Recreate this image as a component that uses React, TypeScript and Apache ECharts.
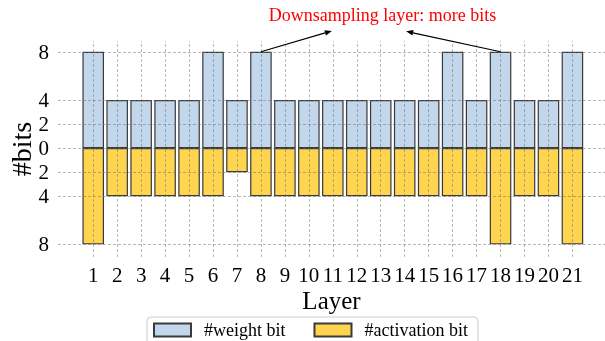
import React, { useEffect, useRef } from "react";
import * as echarts from "echarts";

// Per-layer bit widths
const layers = [1, 2, 3, 4, 5, 6, 7, 8, 9, 10, 11, 12, 13, 14, 15, 16, 17, 18, 19, 20, 21];
const weightBits = [8, 4, 4, 4, 4, 8, 4, 8, 4, 4, 4, 4, 4, 4, 4, 8, 4, 8, 4, 4, 8];
const activationBits = [8, 4, 4, 4, 4, 4, 2, 4, 4, 4, 4, 4, 4, 4, 4, 4, 4, 8, 4, 4, 8];

// Tick values on the bits axis (activations drawn below zero)
const bitTicks = [8, 4, 2, 0, -2, -4, -8];

// Annotation: text and the two downsampling layers it points at
const noteText = "Downsampling layer: more bits";
const noteLayers = [8, 18];
// Arrow tips in data coordinates (above the plotted range)
const noteTips: [number, number][] = [
  [10.96, 9.74],
  [14.06, 9.7],
];

const FONT = "'Liberation Serif', 'Times New Roman', serif";
const BLUE = "#c2d6ec";
const YELLOW = "#ffd54f";
const GRID_LINE = "rgba(105,105,105,0.6)";

export default function App() {
  const ref = useRef<HTMLDivElement>(null);

  useEffect(() => {
    if (!ref.current) return;
    const chart = echarts.init(ref.current, undefined, { renderer: "svg" });

    const gridLines = [
      ...layers.map((l) => ({ xAxis: l })),
      ...bitTicks.map((v) => ({ yAxis: v })),
    ];

    chart.setOption({
      animation: false,
      grid: {
        left: 58,
        right: 0,
        top: 41,
        bottom: 84,
        containLabel: false,
        outerBoundsMode: "none",
      },
      xAxis: {
        type: "value",
        min: -0.47,
        max: 22.36,
        name: "Layer",
        nameLocation: "middle",
        nameGap: 31,
        nameMoveOverlap: false,
        nameTextStyle: { fontFamily: FONT, fontSize: 25, color: "#000" },
        axisLine: { show: false },
        axisTick: { show: false, customValues: layers },
        splitLine: { show: false },
        axisLabel: {
          customValues: layers,
          fontFamily: FONT,
          fontSize: 21,
          color: "#000",
          margin: 7,
        },
      },
      yAxis: {
        type: "value",
        min: -9.05,
        max: 8.9,
        name: "#bits",
        nameLocation: "middle",
        nameGap: 23,
        nameMoveOverlap: false,
        nameTextStyle: { fontFamily: FONT, fontSize: 28, color: "#000" },
        axisLine: { show: false },
        axisTick: { show: false, customValues: bitTicks },
        splitLine: { show: false },
        axisLabel: {
          customValues: bitTicks,
          formatter: (v: number) => String(Math.abs(v)),
          fontFamily: FONT,
          fontSize: 21,
          color: "#000",
          margin: 9,
        },
      },
      legend: {
        data: ["#weight bit", "#activation bit"],
        left: 147,
        top: 317,
        orient: "horizontal",
        icon: "rect",
        itemWidth: 37,
        itemHeight: 13,
        itemGap: 28,
        padding: [4, 10, 8, 6],
        borderColor: "#cccccc",
        borderWidth: 1,
        borderRadius: 4,
        textStyle: { fontFamily: FONT, fontSize: 18, color: "#000", padding: [0, 0, 0, 8] },
      },
      series: [
        {
          name: "#weight bit",
          type: "bar",
          barWidth: "90%",
          barGap: "-100%",
          data: layers.map((l, i) => [l, weightBits[i]]),
          itemStyle: { color: BLUE, borderColor: "#3a3a3a", borderWidth: 1.2 },
          markLine: {
            silent: true,
            symbol: ["none", "none"],
            label: { show: false },
            lineStyle: { color: GRID_LINE, width: 0.8, type: [3, 2] },
            z: 10,
            data: gridLines,
          },
        },
        {
          name: "#activation bit",
          type: "bar",
          barWidth: "90%",
          barGap: "-100%",
          data: layers.map((l, i) => [l, -activationBits[i]]),
          itemStyle: { color: YELLOW, borderColor: "#3a3a3a", borderWidth: 1.2 },
        },
      ],
    });

    // Annotation arrows, positioned from the data coordinates
    const graphics: any[] = [];
    noteLayers.forEach((layer, k) => {
      const start = chart.convertToPixel({ gridIndex: 0 }, [layer, weightBits[layer - 1]]) as number[];
      const tip = chart.convertToPixel({ gridIndex: 0 }, noteTips[k]) as number[];
      const dx = tip[0] - start[0];
      const dy = tip[1] - start[1];
      const len = Math.hypot(dx, dy);
      const ux = dx / len;
      const uy = dy / len;
      const headLen = 7;
      const headHalf = 2.8;
      const bx = tip[0] - ux * headLen;
      const by = tip[1] - uy * headLen;
      graphics.push({
        type: "line",
        shape: { x1: start[0], y1: start[1], x2: bx, y2: by },
        style: { stroke: "#000", lineWidth: 1.1 },
        z: 20,
      });
      graphics.push({
        type: "polygon",
        shape: {
          points: [
            [tip[0], tip[1]],
            [bx - uy * headHalf, by + ux * headHalf],
            [bx + uy * headHalf, by - ux * headHalf],
          ],
        },
        style: { fill: "#000" },
        z: 20,
      });
    });
    graphics.push({
      type: "text",
      x: 382.5,
      y: 15,
      style: {
        text: noteText,
        fill: "#ff0000",
        font: `18px ${FONT}`,
        align: "center",
        verticalAlign: "middle",
      },
      z: 20,
    });
    chart.setOption({ graphic: graphics });

    return () => chart.dispose();
  }, []);

  return (
    <div
      ref={ref}
      style={{ position: "fixed", left: 0, top: 0, width: 605, height: 341 }}
    />
  );
}
